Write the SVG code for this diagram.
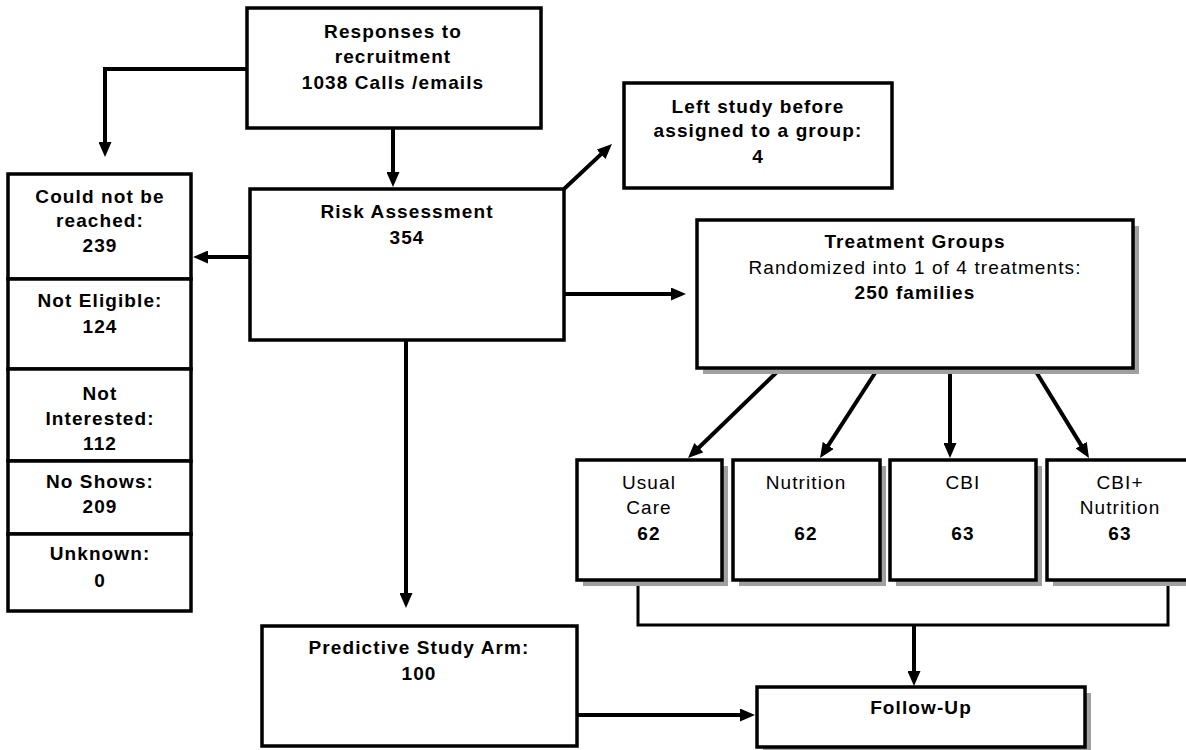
<svg xmlns="http://www.w3.org/2000/svg" width="1186" height="750" viewBox="0 0 1186 750">
<style>
.box{fill:#fff;stroke:#000;stroke-width:3.5}
.sh{fill:#a0a0a0}
.b{font-family:"Liberation Sans",Arial,sans-serif;font-size:19px;font-weight:bold;letter-spacing:1.1px;text-anchor:middle;fill:#000}
.r{font-family:"Liberation Sans",Arial,sans-serif;font-size:19px;font-weight:normal;letter-spacing:1.1px;text-anchor:middle;fill:#000}
.c{fill:none;stroke:#000;stroke-width:4}
.c2{fill:none;stroke:#000;stroke-width:3}
</style>
<defs>
<marker id="ah" viewBox="0 0 15 13" refX="2" refY="6.5" markerWidth="15" markerHeight="13" markerUnits="userSpaceOnUse" orient="auto">
<path d="M0,0 L15,6.5 L0,13 z" fill="#000"/>
</marker>
</defs>
<rect width="1186" height="750" fill="#fff"/>

<g id="connectors">
<polyline class="c" points="247,69 105,69 105,144" marker-end="url(#ah)"/>
<line class="c" x1="393" y1="128" x2="393" y2="174" marker-end="url(#ah)"/>
<line class="c" x1="250" y1="257" x2="206" y2="257" marker-end="url(#ah)"/>
<line class="c" x1="564" y1="189" x2="602.5" y2="152.9" marker-end="url(#ah)"/>
<line class="c" x1="564" y1="294" x2="673" y2="294" marker-end="url(#ah)"/>
<line class="c" x1="406" y1="340" x2="406" y2="595" marker-end="url(#ah)"/>
<line class="c" x1="779" y1="370" x2="697.4" y2="449" marker-end="url(#ah)"/>
<line class="c" x1="877" y1="370" x2="827.1" y2="447.1" marker-end="url(#ah)"/>
<line class="c" x1="950" y1="370" x2="950" y2="445" marker-end="url(#ah)"/>
<line class="c" x1="1035" y1="370" x2="1082.2" y2="446.9" marker-end="url(#ah)"/>
<polyline class="c2" points="638,580 638,625 1168,625 1168,580"/>
<line class="c" x1="914" y1="625" x2="914" y2="673" marker-end="url(#ah)"/>
<line class="c" x1="577" y1="715" x2="742" y2="715" marker-end="url(#ah)"/>
</g>

<g id="responses">
<rect class="box" x="247" y="8" width="294" height="120"/>
<text class="b" x="393" y="38">Responses to</text>
<text class="b" x="393" y="63">recruitment</text>
<text class="b" x="393" y="89">1038 Calls /emails</text>
</g>

<g id="left-study">
<rect class="box" x="624" y="83" width="268" height="105"/>
<text class="b" x="758" y="113">Left study before</text>
<text class="b" x="758" y="137">assigned to a group:</text>
<text class="b" x="758" y="163">4</text>
</g>

<g id="risk">
<rect class="box" x="250" y="189" width="314" height="151"/>
<text class="b" x="407" y="218">Risk Assessment</text>
<text class="b" x="407" y="244">354</text>
</g>

<g id="not-reached">
<rect class="box" x="8" y="174" width="183" height="105"/>
<text class="b" x="100" y="203">Could not be</text>
<text class="b" x="100" y="227">reached:</text>
<text class="b" x="100" y="252">239</text>
</g>
<g id="not-eligible">
<rect class="box" x="8" y="279" width="183" height="90"/>
<text class="b" x="100" y="307">Not Eligible:</text>
<text class="b" x="100" y="333">124</text>
</g>
<g id="not-interested">
<rect class="box" x="8" y="369" width="183" height="92"/>
<text class="b" x="100" y="400">Not</text>
<text class="b" x="100" y="425">Interested:</text>
<text class="b" x="100" y="450">112</text>
</g>
<g id="no-shows">
<rect class="box" x="8" y="461" width="183" height="73"/>
<text class="b" x="100" y="488">No Shows:</text>
<text class="b" x="100" y="513">209</text>
</g>
<g id="unknown">
<rect class="box" x="8" y="534" width="183" height="77"/>
<text class="b" x="100" y="560">Unknown:</text>
<text class="b" x="100" y="587">0</text>
</g>

<g id="treatment">
<rect class="sh" x="703" y="226" width="436" height="148"/>
<rect class="box" x="697" y="220" width="436" height="148"/>
<text class="b" x="915" y="248">Treatment Groups</text>
<text class="r" x="915" y="274">Randomized into 1 of 4 treatments:</text>
<text class="b" x="915" y="299">250 families</text>
</g>

<g id="usual-care">
<rect class="sh" x="583" y="466" width="145" height="120"/>
<rect class="box" x="577" y="460" width="145" height="120"/>
<text class="r" x="649" y="489">Usual</text>
<text class="r" x="649" y="514">Care</text>
<text class="b" x="649" y="540">62</text>
</g>
<g id="nutrition">
<rect class="sh" x="739" y="466" width="147" height="120"/>
<rect class="box" x="733" y="460" width="147" height="120"/>
<text class="r" x="806" y="489">Nutrition</text>
<text class="b" x="806" y="540">62</text>
</g>
<g id="cbi">
<rect class="sh" x="896" y="466" width="146" height="120"/>
<rect class="box" x="890" y="460" width="146" height="120"/>
<text class="r" x="963" y="489">CBI</text>
<text class="b" x="963" y="540">63</text>
</g>
<g id="cbi-nutrition">
<rect class="sh" x="1053" y="466" width="146" height="120"/>
<rect class="box" x="1047" y="460" width="146" height="120"/>
<text class="r" x="1120" y="489">CBI+</text>
<text class="r" x="1120" y="514">Nutrition</text>
<text class="b" x="1120" y="540">63</text>
</g>

<g id="predictive">
<rect class="box" x="262" y="626" width="315" height="120"/>
<text class="b" x="419" y="654">Predictive Study Arm:</text>
<text class="b" x="419" y="680">100</text>
</g>

<g id="follow-up">
<rect class="sh" x="763" y="693" width="328" height="60"/>
<rect class="box" x="757" y="687" width="328" height="60"/>
<text class="b" x="921" y="714">Follow-Up</text>
</g>
</svg>
